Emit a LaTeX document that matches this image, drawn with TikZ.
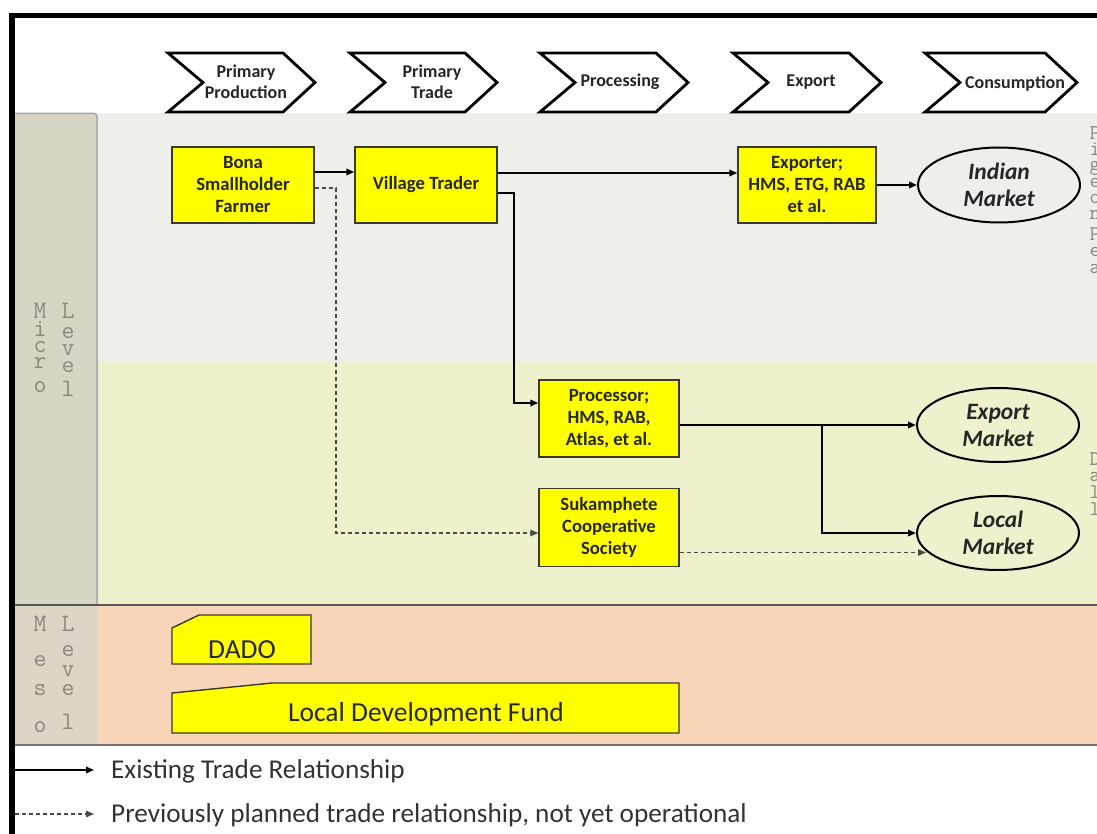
\documentclass[tikz,border=0pt]{standalone}
\usepackage{fontspec}
\setmainfont{Carlito}
\usetikzlibrary{shapes.geometric,arrows.meta,calc}
\definecolor{bandgrey}{HTML}{EEEEEB}
\definecolor{bandyel}{HTML}{EFF0CC}
\definecolor{bandsal}{HTML}{F8D5B8}
\definecolor{colmicro}{HTML}{D9D5C4}
\definecolor{colmeso}{HTML}{DCD6C6}
\definecolor{colborder}{HTML}{9AABB8}
\definecolor{boxyel}{HTML}{FFFF00}
\definecolor{boxline}{HTML}{3A3A2A}
\definecolor{lettergrey}{HTML}{8A887E}
\definecolor{dashgrey}{HTML}{4A4A4A}
\definecolor{legtext}{HTML}{333333}
\newcommand{\chevshape}[2]{%
  \draw[chev] (#1,53) -- (#1+#2-32,53) -- (#1+#2,82.5) -- (#1+#2-32,112) -- (#1,112) -- (#1+35,82.5) -- cycle;}
\tikzset{
  chev/.style={draw=black, line width=2.8pt, fill=white, line join=miter},
  chevtext/.style={font=\fontsize{18}{20.5}\selectfont\bfseries, align=center, inner sep=0pt, text=black!85},
  ybox/.style={draw=boxline, line width=1.4pt, fill=boxyel, minimum height=76pt, inner sep=0pt, align=center,
    font=\fontsize{18.7}{22}\selectfont\bfseries, text=black!85},
  mkt/.style={ellipse, draw=black, line width=2pt, fill=none, minimum width=162pt, inner sep=0pt, align=center,
    font=\fontsize{23.5}{27}\selectfont\bfseries\itshape, text=black!85},
  meso/.style={draw=boxline, line width=1.4pt, fill=boxyel},
  mesotext/.style={font=\fontsize{27.5}{30}\selectfont, text=black!85, inner sep=0pt},
  arr/.style={draw=black, line width=1.8pt, -{Triangle[length=8pt,width=6.5pt]}},
  darr/.style={draw=dashgrey, line width=1.6pt, dash pattern=on 4pt off 3pt, -{Triangle[length=8pt,width=6.5pt]}},
  vlett/.style={anchor=base, inner sep=0pt, text height=7pt, text depth=0pt, font=\fontsize{25}{25}\selectfont\ttfamily, text=lettergrey},
  rlett/.style={vlett, text height=6pt, font=\fontsize{21}{21}\selectfont\ttfamily},
  legtxt/.style={anchor=west, inner sep=0pt, font=\fontsize{27.2}{30}\selectfont, text=legtext}
}
\begin{document}
\begin{tikzpicture}[x=1pt,y=-1pt]
\useasboundingbox (0,0) rectangle (1097,834);
\fill[white] (0,0) rectangle (1097,834);
% bands
\fill[bandgrey] (14,113) rectangle (1097,362);
\fill[bandyel] (14,362) rectangle (1097,605);
\fill[bandsal] (14,605) rectangle (1097,745);
\fill[colmicro] (14,113) rectangle (97,604);
\draw[colborder, line width=1.5pt] (14,113.5) -- (94,113.5) to[out=0,in=90] (97,116.5) -- (97,604);
\fill[colmeso] (14,606) rectangle (97,744);
\draw[black!65, line width=2pt] (14,605) -- (1097,605);
\draw[black!55, line width=2pt] (14,745) -- (1097,745);
% frame
\fill[black] (9,13) rectangle (1097,18.5);
\fill[black] (9,13) rectangle (14.5,834);
% chevrons
\chevshape{168}{147}
\chevshape{350}{147}
\chevshape{540}{148}
\chevshape{733}{148}
\chevshape{925}{152}
\node[chevtext] (c1) at (246,82) {Primary\\Production};
\node[chevtext] (c2) at (432,82) {Primary\\Trade};
\node[chevtext] (c3) at (620,82) {Processing};
\node[chevtext] (c4) at (811,82) {Export};
\node[chevtext] (c5) at (1015,84) {Consumption};
% level letters
\foreach \lx/\ly/\ch [count=\i] in {40/318/M,40/336/i,40/352/c,40/368/r,40/392/o,
  68/318/L,68/338/e,68/355/v,68/372/e,68/396/l,
  40/631/M,40/666/e,40/695/s,40/732/o,
  68/631/L,68/656/e,68/676/v,68/695/e,68/729/l}
  \node[vlett] (lt\i) at (\lx,\ly) {\ch};
\foreach \ly/\ch [count=\i] in {140/P,156/i,171/g,188/e,204/o,220/n,
  241/P,257/e,273/a,465/D,481/a,498/l,515/l}
  \node[rlett] (rt\i) at (1095,\ly) {\ch};
% boxes
\node[ybox, minimum width=142pt] (bona) at (243,185) {Bona\\Smallholder\\Farmer};
\node[ybox, minimum width=142pt] (village) at (426,185) {Village Trader};
\node[ybox, minimum width=138pt] (exporter) at (807,185) {Exporter;\\HMS, ETG, RAB\\et al.};
\node[mkt, minimum height=75pt] (indian) at (999,185) {Indian\\Market};
\node[ybox, minimum width=140pt, minimum height=77pt] (processor) at (609,418.5) {Processor;\\HMS, RAB,\\Atlas, et al.};
\node[mkt, minimum height=74pt] (exportm) at (998,425) {Export\\Market};
\node[ybox, minimum width=140pt, minimum height=78pt] (suka) at (609,527.5) {Sukamphete\\Cooperative\\Society};
\node[mkt, minimum height=74pt] (localm) at (998,533) {Local\\Market};
% meso boxes
\draw[meso] (172,628) -- (199,615) -- (311,615) -- (311,664) -- (172,664) -- cycle;
\node[mesotext] (dado) at (242,650) {DADO};
\draw[meso] (172,693) -- (272,683) -- (679,683) -- (679,733) -- (172,733) -- cycle;
\node[mesotext] (ldf) at (426,714) {Local Development Fund};
% connectors
\draw[arr] ([yshift=13pt]bona.east) -- ([yshift=13pt]village.west);
\draw[arr] ([yshift=12pt]village.east) -- ([yshift=12pt]exporter.west);
\draw[arr] (exporter) -- (indian);
\draw[arr] ([yshift=-8pt]village.east) -- ++(16,0) |- ([yshift=15.5pt]processor.west);
\draw[darr] ([yshift=-3pt]bona.east) -- ++(21,0) |- ([yshift=-5.5pt]suka.west);
\draw[arr] ([yshift=-6.5pt]processor.east) -- (exportm.west);
\coordinate (br) at (822,425);
\draw[arr] (br) |- (localm.west);
\draw[darr] ([yshift=-25pt]suka.east) -- ([xshift=10pt,yshift=-19.5pt]localm.west);
% legend
\coordinate (l1a) at (15,770);
\coordinate (l1b) at (94,770);
\coordinate (l2a) at (15,814);
\coordinate (l2b) at (94,814);
\draw[arr, line width=1.6pt] (l1a) -- (l1b);
\draw[darr, line width=1.4pt] (l2a) -- (l2b);
\node[legtxt] (leg1) at (111,771) {Existing Trade Relationship};
\node[legtxt] (leg2) at (111,815) {Previously planned trade relationship, not yet operational};
\end{tikzpicture}
\end{document}
